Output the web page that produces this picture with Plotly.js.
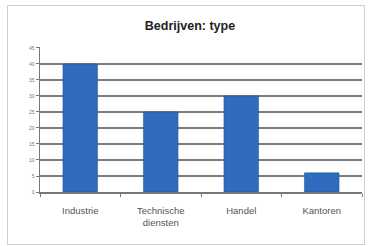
<!DOCTYPE html>
<html><head><meta charset="utf-8">
<script src="https://cdn.plot.ly/plotly-3.0.1.min.js"></script>
<style>html,body{margin:0;padding:0;background:#fff}#frame{position:absolute;left:7px;top:5px;width:358px;height:240px;border:1px solid #cfcfcf;box-sizing:border-box}#c{position:absolute;left:0;top:0;width:370px;height:246px}</style>
</head><body><div id="frame"></div><div id="c"></div>
<script>
const categories = ["Industrie", "Technische<br>diensten", "Handel", "Kantoren"];
const values = [40, 25, 30, 6];
const tickVals = [0, 5, 10, 15, 20, 25, 30, 35, 40, 45];
const tickText = ["0", "5", "10", "15", "20", "25", "30", "35", "40", "45"];

Plotly.newPlot('c', [{
  type: 'bar', x: categories, y: values,
  marker: {color: '#2f6cc0', line: {color: '#1f4f94', width: 0.5}},
  width: 0.43, hoverinfo: 'none'
}], {
  width: 370, height: 246,
  margin: {l: 40, r: 8, t: 47, b: 54},
  paper_bgcolor: 'rgba(0,0,0,0)', plot_bgcolor: 'rgba(0,0,0,0)',
  title: {text: '<b>Bedrijven: type</b>', x: 190/370, xref: 'container', xanchor: 'center', y: 220/246, yanchor: 'middle', font: {family: 'Liberation Sans, Arial', size: 12.5, color: '#222'}},
  xaxis: {showline: true, linecolor: '#777', linewidth: 1.5, ticks: 'outside', ticklen: 3, tickcolor: '#777', tickson: 'boundaries',
    ticklabelstandoff: 9,
    tickfont: {family: 'Liberation Sans, Arial', size: 9.5, color: '#555'}, fixedrange: true, showgrid: false},
  yaxis: {range: [0, 45.3], tickvals: tickVals, ticktext: tickText, showline: true, linecolor: '#777', linewidth: 1.5,
    ticks: 'outside', ticklen: 3, tickcolor: '#777', tickfont: {family: 'Liberation Sans, Arial', size: 5, color: '#777'},
    showgrid: true, gridcolor: '#7d7d7d', gridwidth: 2, zeroline: false, fixedrange: true},
  showlegend: false
}, {displayModeBar: false, staticPlot: true});
</script></body></html>
